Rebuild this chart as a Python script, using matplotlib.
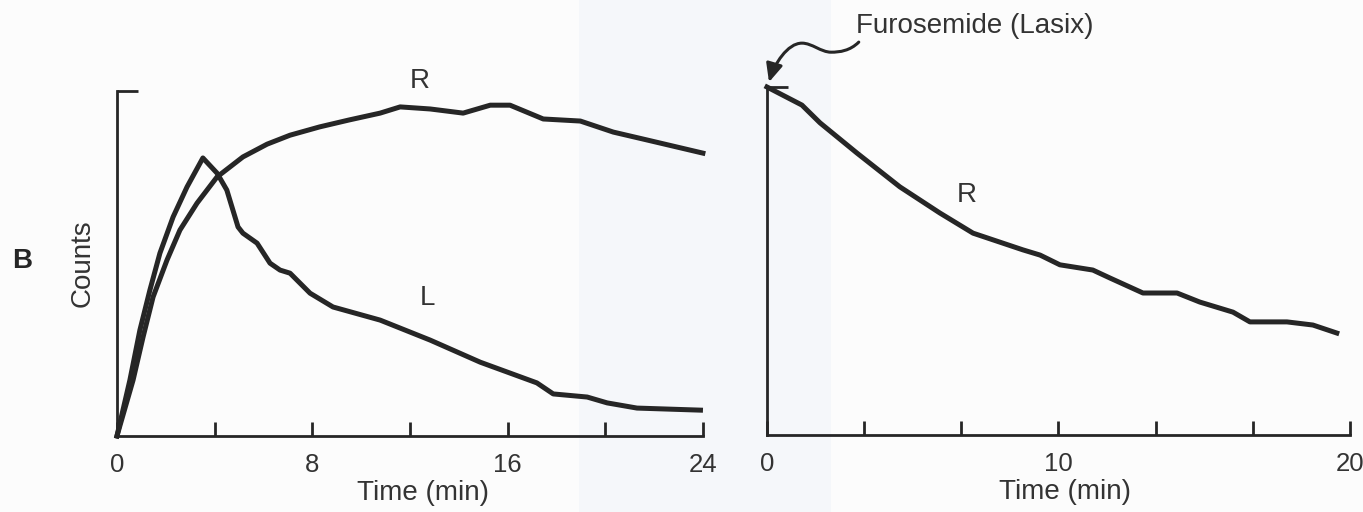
import matplotlib
matplotlib.use("Agg")
import matplotlib.pyplot as plt
from matplotlib.path import Path
from matplotlib.patches import FancyArrowPatch, Rectangle

plt.rcParams['font.family'] = ['Liberation Sans', 'DejaVu Sans']

# Left panel: renogram, counts vs time (min)
left_t_R = [0, 0.66, 1.07, 1.48, 2.05, 2.58, 3.28, 4.1, 5.16, 6.15, 7.09, 8.3, 9.5,
            10.78, 11.6, 12.83, 14.18, 15.29, 16.1, 17.46, 18.98, 20.33, 21.72, 24.0]
left_R = [0, 16.2, 28.7, 40.3, 51, 59.7, 67.5, 75.1, 80.9, 84.6, 87.2, 89.6, 91.6,
          93.6, 95.4, 94.8, 93.6, 95.9, 95.9, 91.9, 91.3, 88.1, 85.8, 82]
left_t_L = [0, 0.53, 0.94, 1.35, 1.76, 2.3, 2.87, 3.52, 4.1, 4.5, 4.96, 5.16, 5.74,
            6.27, 6.68, 7.09, 7.91, 8.85, 10.78, 12.83, 14.88, 17.2, 17.87, 19.26,
            20.08, 21.3, 23.9]
left_L = [0, 16.2, 30.7, 42.3, 53, 63.5, 72.2, 80.6, 76.2, 71.3, 60.6, 58.8, 55.9,
          50.1, 48.1, 47.2, 41.4, 37.4, 33.6, 27.8, 21.4, 15.4, 12.2, 11.3,
          9.6, 8.1, 7.5]
left_ticks = [0, 4, 8, 12, 16, 20, 24]
left_ticklabels = ['0', '', '8', '', '16', '', '24']

# Right panel: after furosemide
right_t = [0, 1.2, 1.82, 3.09, 4.56, 5.93, 7.07, 8.78, 9.37, 10.05, 11.18, 11.77,
           12.9, 14.07, 14.85, 15.99, 16.57, 17.84, 18.73, 19.55]
right_R = [100, 94.8, 89.7, 81, 71.3, 63.8, 58, 53.2, 51.7, 48.9, 47.4, 45.1,
           40.8, 40.8, 38.2, 35.3, 32.5, 32.5, 31.6, 29.3]
right_ticks = [0, 10 / 3, 20 / 3, 10, 40 / 3, 50 / 3, 20]
right_ticklabels = ['0', '', '', '10', '', '', '20']

# wavy arrow: start, then 3 bezier segments (control, control, end) in right-axes data coords
arrow_pts = [(3.15, 112.9),
             (2.85, 110.4), (2.5, 110.0), (2.2, 110.0),
             (1.85, 110.0), (1.55, 112.6), (1.2, 112.6),
             (0.7, 112.6), (0.25, 106.5), (0.07, 101.4)]

ink = '#262626'
txt = '#333333'

fig = plt.figure(figsize=(13.63, 5.12), dpi=100, facecolor='#fcfcfc')
# faint bluish band from the scanned page
fig.patches.append(Rectangle((0.425, 0), 0.185, 1, transform=fig.transFigure,
                             facecolor='#f5f7fa', edgecolor='none', zorder=-1))

ax1 = fig.add_axes([0.0858, 0.1484, 0.4299, 0.6738])
ax2 = fig.add_axes([0.5627, 0.1504, 0.4277, 0.6797])

for ax in (ax1, ax2):
    ax.set_facecolor('none')
    for s in ('top', 'right'):
        ax.spines[s].set_visible(False)
    for s in ('left', 'bottom'):
        ax.spines[s].set_linewidth(2.0)
        ax.spines[s].set_color(ink)
    ax.set_ylim(0, 100)
    ax.set_yticks([100])
    ax.set_yticklabels([''])
    ax.tick_params(axis='y', direction='in', length=15, width=2, color=ink)
    ax.tick_params(axis='x', direction='in', length=10, width=2, color=ink,
                   labelsize=18.5, labelcolor=txt, pad=12)

ax1.plot(left_t_R, left_R, color=ink, lw=3.6, clip_on=False, solid_joinstyle='round')
ax1.plot(left_t_L, left_L, color=ink, lw=3.6, clip_on=False, solid_joinstyle='round')
ax1.set_xlim(0, 24)
ax1.set_xticks(left_ticks)
ax1.set_xticklabels(left_ticklabels)
ax1.text(0.522, -0.165, 'Time (min)', transform=ax1.transAxes, fontsize=20,
         color=txt, ha='center', va='center')
ax1.set_ylabel('Counts', fontsize=20, color=txt, labelpad=12)
ax1.text(12.4, 103, 'R', fontsize=20, color=txt, ha='center', va='center')
ax1.text(12.7, 40, 'L', fontsize=20, color=txt, ha='center', va='center')
fig.text(0.016, 0.49, 'B', fontsize=20, fontweight='bold', color=ink,
         ha='center', va='center')

ax2.plot(right_t, right_R, color=ink, lw=3.6, clip_on=False, solid_joinstyle='round')
ax2.set_xlim(0, 20)
ax2.set_xticks(right_ticks)
ax2.set_xticklabels(right_ticklabels)
ax2.text(0.511, -0.165, 'Time (min)', transform=ax2.transAxes, fontsize=20,
         color=txt, ha='center', va='center')
ax2.text(6.86, 69, 'R', fontsize=20, color=txt, ha='center', va='center')
ax2.text(3.05, 117.5, 'Furosemide (Lasix)', fontsize=20, color=txt,
         ha='left', va='center', clip_on=False)

codes = [Path.MOVETO] + [Path.CURVE4] * (len(arrow_pts) - 1)
arrow_path = Path(arrow_pts, codes)
arrow = FancyArrowPatch(path=arrow_path.transformed(ax2.transData),
                        transform=None, arrowstyle='-|>,head_length=11,head_width=5',
                        color=ink, lw=2.2, clip_on=False)
fig.patches.append(arrow)

fig.savefig('out.png', dpi=100, facecolor=fig.get_facecolor())
